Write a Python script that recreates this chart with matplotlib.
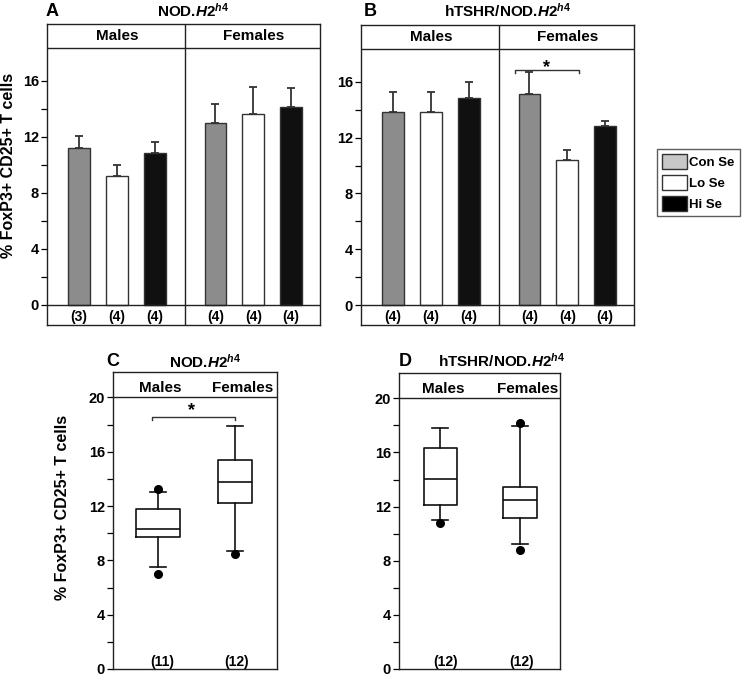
import matplotlib
matplotlib.use("Agg")
import matplotlib.pyplot as plt
from matplotlib.patches import Patch
import numpy as np

plt.rcParams['font.family'] = ['Liberation Sans', 'DejaVu Sans']
plt.rcParams['font.weight'] = 'bold'
plt.rcParams['mathtext.fontset'] = 'custom'
plt.rcParams['mathtext.rm'] = 'Liberation Sans:bold'
plt.rcParams['mathtext.it'] = 'Liberation Sans:italic:bold'
plt.rcParams['mathtext.bf'] = 'Liberation Sans:bold'

# ---------------- data ----------------
groups = ["Males", "Females"]
treatments = ["Con Se", "Lo Se", "Hi Se"]

# Panel A  NOD.H2h4 (means, SEM)
a_means = [11.24, 9.24, 10.88, 13.0, 13.67, 14.17]
a_err = [0.83, 0.76, 0.79, 1.38, 1.93, 1.35]
a_n = ["(3)", "(4)", "(4)", "(4)", "(4)", "(4)"]

# Panel B  hTSHR/NOD.H2h4
b_means = [13.81, 13.81, 14.81, 15.1, 10.4, 12.86]
b_err = [1.48, 1.48, 1.14, 1.57, 0.7, 0.31]
b_n = ["(4)", "(4)", "(4)", "(4)", "(4)", "(4)"]

# Panel C  box stats (Males, Females)
c_med = [10.31, 13.75]
c_q1 = [9.74, 12.2]
c_q3 = [11.76, 15.39]
c_whislo = [7.49, 8.69]
c_whishi = [13.06, 17.92]
c_fliers = [[13.23, 7.02], [8.49]]
c_n = ["(11)", "(12)"]

# Panel D
d_med = [14.04, 12.52]
d_q1 = [12.15, 11.14]
d_q3 = [16.3, 13.48]
d_whislo = [11.02, 9.2]
d_whishi = [17.82, 17.92]
d_fliers = [[10.8], [18.17, 8.81]]
d_n = ["(12)", "(12)"]

ylabel_text = "% FoxP3+ CD25+ T cells"

bar_colors = ["#8c8c8c", "#ffffff", "#101010"]
legend_colors = ["#c8c8c8", "#ffffff", "#000000"]
edge = "#333333"

W, H = 742, 679
fig = plt.figure(figsize=(W / 100, H / 100), dpi=100)


def rect(l, t, r, b):
    return [l / W, 1 - b / H, (r - l) / W, (b - t) / H]


def fpt(x, y):
    return x / W, 1 - y / H


title_math = r"NOD.$\mathit{H2}^{\mathit{h4}}$"
title_math_b = r"hTSHR/NOD.$\mathit{H2}^{\mathit{h4}}$"


def style_axes(ax, major, minor):
    for s in ax.spines.values():
        s.set_linewidth(1.0)
        s.set_color("#222222")
    ax.set_yticks(major)
    ax.set_yticks(minor, minor=True)
    ax.set_yticklabels([str(v) for v in major], fontsize=10.5, fontweight='bold')
    ax.tick_params(axis='y', which='major', direction='out', length=4.2, width=0.9, pad=1.5)
    ax.tick_params(axis='y', which='minor', direction='out', length=4.2, width=0.9)
    ax.set_xticks([])


pos = np.array([0, 1, 2, 3.6, 4.6, 5.6])


def bar_panel(rect_px, means, errs, ns):
    ax = fig.add_axes(rect(*rect_px))
    ax.set_xlim(-0.85, 6.36)
    ax.set_ylim(-1.43, 20.07)
    cols = bar_colors * 2
    ax.errorbar(pos, means, yerr=[np.zeros(len(errs)), errs], fmt='none',
                ecolor=edge, elinewidth=1.3, capsize=2.9, capthick=1.3, zorder=1)
    ax.bar(pos, means, width=0.58, color=cols, edgecolor=edge, linewidth=1.0, zorder=2)
    ax.axhline(0, color="#222222", lw=1.0, zorder=3)
    ax.axhline(18.36, color="#222222", lw=1.0, zorder=3)
    ax.axvline(2.8, color="#222222", lw=1.0, zorder=3)
    ax.text(1.0, 19.2, groups[0], ha='center', va='center', fontsize=11, fontweight='bold')
    ax.text(4.6, 19.2, groups[1], ha='center', va='center', fontsize=11, fontweight='bold')
    for x, n in zip(pos, ns):
        ax.text(x, -0.85, n, ha='center', va='center', fontsize=10, fontweight='bold')
    style_axes(ax, [0, 4, 8, 12, 16], [2, 6, 10, 14])
    return ax


axA = bar_panel((47, 24, 320, 325), a_means, a_err, a_n)
axB = bar_panel((361, 25, 634, 325), b_means, b_err, b_n)

# significance bracket in B
axB.plot([3.22, 3.22, 4.9, 4.9], [16.62, 16.88, 16.88, 16.62], color=edge, lw=1.0)
axB.text(4.05, 17.05, "*", ha='center', va='center', fontsize=13, fontweight='bold')

fig.text(*fpt(9, 165), ylabel_text, rotation=90, ha='center', va='center',
         fontsize=11.5, fontweight='bold')

fig.text(*fpt(52, 11), "A", ha='center', va='center', fontsize=13, fontweight='bold')
fig.text(*fpt(193, 11), title_math, ha='center', va='center', fontsize=11)
fig.text(*fpt(370, 11), "B", ha='center', va='center', fontsize=13, fontweight='bold')
fig.text(*fpt(508, 11), title_math_b, ha='center', va='center', fontsize=11)


def box_panel(rect_px, xlim, widths, med, q1, q3, lo, hi, fl, ns):
    ax = fig.add_axes(rect(*rect_px))
    ax.set_xlim(*xlim)
    ax.set_ylim(0, 21.87)
    stats = []
    for i in range(2):
        stats.append(dict(med=med[i], q1=q1[i], q3=q3[i], whislo=lo[i],
                          whishi=hi[i], fliers=fl[i], label=groups[i]))
    ax.bxp(stats, positions=[1, 2], widths=widths, capwidths=[0.2, 0.2],
           showfliers=True, patch_artist=False,
           boxprops=dict(color="#111111", lw=1.2),
           medianprops=dict(color="#111111", lw=1.2),
           whiskerprops=dict(color="#111111", lw=1.2),
           capprops=dict(color="#111111", lw=1.2),
           flierprops=dict(marker='o', markerfacecolor='black', markeredgecolor='black',
                           markersize=5.5))
    ax.axhline(20, color="#222222", lw=1.0)
    ax.text(1.03, 20.7, groups[0], ha='center', va='center', fontsize=11, fontweight='bold')
    ax.text(2.1, 20.7, groups[1], ha='center', va='center', fontsize=11, fontweight='bold')
    for x, n in zip([1.06, 2.02], ns):
        ax.text(x, 0.55, n, ha='center', va='center', fontsize=10, fontweight='bold')
    style_axes(ax, [0, 4, 8, 12, 16, 20], [2, 6, 10, 14, 18])
    return ax


axC = box_panel((113, 372, 277, 669), (0.416, 2.545), [0.58, 0.43],
                c_med, c_q1, c_q3, c_whislo, c_whishi, c_fliers, c_n)
axD = box_panel((399, 373, 560, 669), (0.48, 2.5), [0.42, 0.43],
                d_med, d_q1, d_q3, d_whislo, d_whishi, d_fliers, d_n)

axC.plot([0.92, 0.92, 2.0, 2.0], [18.3, 18.53, 18.53, 18.3], color=edge, lw=1.0)
axC.text(1.44, 19.0, "*", ha='center', va='center', fontsize=13, fontweight='bold')
fig.text(*fpt(63, 507), ylabel_text, rotation=90, ha='center', va='center',
         fontsize=11.5, fontweight='bold')

fig.text(*fpt(113, 362), "C", ha='center', va='center', fontsize=13, fontweight='bold')
fig.text(*fpt(205, 362), title_math, ha='center', va='center', fontsize=11)
fig.text(*fpt(405, 361), "D", ha='center', va='center', fontsize=13, fontweight='bold')
fig.text(*fpt(502, 361), title_math_b, ha='center', va='center', fontsize=11)

# legend
handles = [Patch(facecolor=c, edgecolor="#333333", linewidth=1.0) for c in legend_colors]
leg = fig.legend(handles, treatments, loc='upper left', bbox_to_anchor=fpt(657, 149),
                 bbox_transform=fig.transFigure, frameon=True,
                 fancybox=False, edgecolor="#333333", handlelength=1.9,
                 handleheight=1.36, labelspacing=0.45, handletextpad=0.15,
                 borderpad=0.4, borderaxespad=0.0, prop=dict(weight='bold', size=9.5))
leg.get_frame().set_linewidth(1.0)

fig.savefig("out.png", dpi=100)
